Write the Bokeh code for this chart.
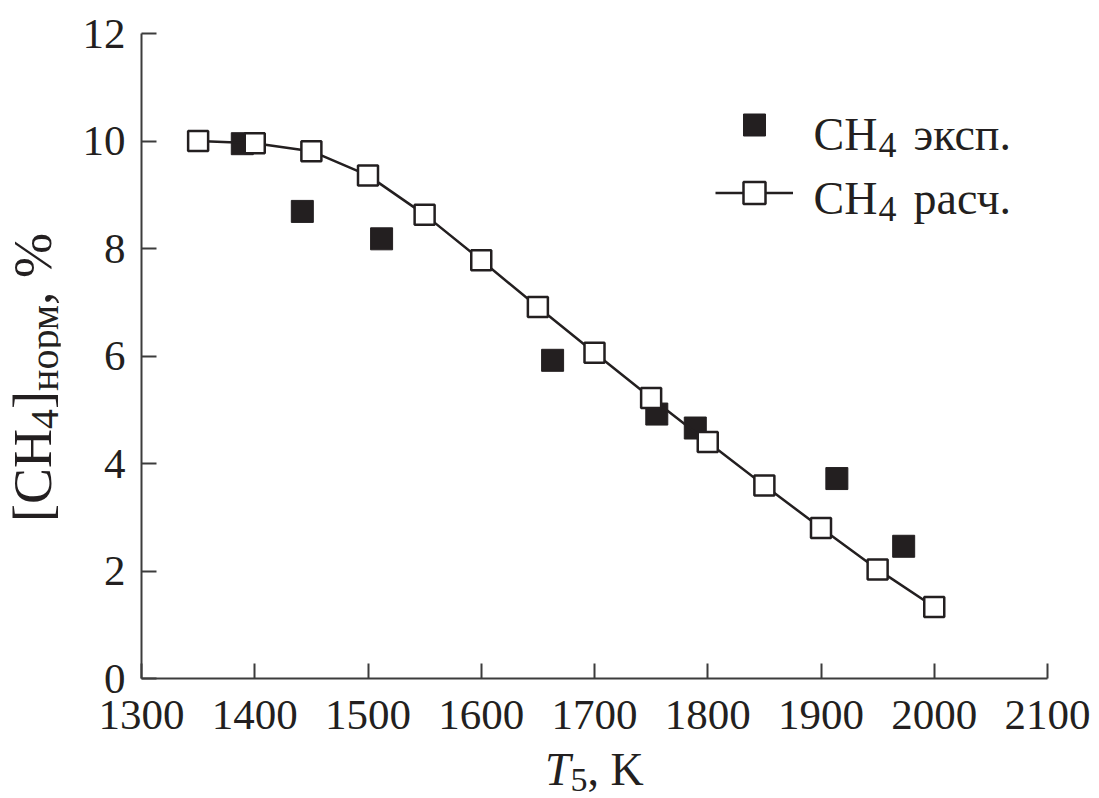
from bokeh.plotting import figure
from bokeh.models import Label, Range1d, FixedTicker, Legend, LegendItem, Div
from bokeh.layouts import row, column
from bokeh.core.properties import value
from bokeh.embed import file_html
from bokeh.resources import INLINE

# ---------------- data ----------------
T_calc = [1350, 1400, 1450, 1500, 1550, 1600, 1650, 1700, 1750, 1800, 1850, 1900, 1950, 2000]
ch4_calc = [10.0, 9.96, 9.81, 9.36, 8.63, 7.78, 6.91, 6.06, 5.22, 4.40, 3.59, 2.80, 2.03, 1.33]
T_exp = [1389, 1442, 1512, 1663, 1755, 1789, 1914, 1973]
ch4_exp = [9.95, 8.69, 8.18, 5.92, 4.92, 4.66, 3.72, 2.46]
x_ticks = [1300, 1400, 1500, 1600, 1700, 1800, 1900, 2000, 2100]
y_ticks = [0, 2, 4, 6, 8, 10, 12]

FONT = "Liberation Serif"
INK = "#231f20"
AXIS = "#3c3c3c"

# page geometry (canvas px)
W, H = 1099, 798
YDIV_W = 60            # strip on the left holding the y title
XDIV_H = 46            # strip at the bottom holding the x title
FL, FR, FT, FB = 141, 1047, 33, 678   # frame edges in page px

PW, PH = W - YDIV_W, H - XDIV_H
p = figure(width=PW, height=PH, output_backend="svg", toolbar_location=None,
           x_range=Range1d(1300, 2100), y_range=Range1d(0, 12),
           min_border_left=FL - YDIV_W, min_border_right=W - FR,
           min_border_top=FT, min_border_bottom=PH - FB)
p.outline_line_color = None
p.grid.visible = False
p.background_fill_color = "white"
p.border_fill_color = "white"

for ax, ticks in ((p.xaxis[0], x_ticks), (p.yaxis[0], y_ticks)):
    ax.ticker = FixedTicker(ticks=ticks)
    ax.axis_line_color = AXIS
    ax.axis_line_width = 2
    ax.major_tick_line_color = AXIS
    ax.major_tick_line_width = 2
    ax.major_tick_in = 15
    ax.major_tick_out = 0
    ax.minor_tick_line_color = None
    ax.major_label_text_font = FONT
    ax.major_label_text_font_size = "43px"
    ax.major_label_text_color = INK
p.xaxis[0].major_label_standoff = 22
p.yaxis[0].major_label_standoff = 16

# ---------------- marks ----------------
r_exp = p.scatter(T_exp, ch4_exp, marker="square", size=22,
                  fill_color=INK, line_color=INK, line_width=1)
r_line = p.line(T_calc, ch4_calc, line_color=INK, line_width=2.5)
r_calc = p.scatter(T_calc, ch4_calc, marker="square", size=20,
                   fill_color="white", line_color=INK, line_width=2.5)

# legend glyphs (text drawn separately because of the subscripts)
leg = Legend(items=[LegendItem(label=value(""), renderers=[r_exp]),
                    LegendItem(label=value(""), renderers=[r_line, r_calc])],
             location=(715 - FL, FB - 220), orientation="vertical",
             glyph_width=78, glyph_height=55, spacing=13, padding=0, margin=0,
             label_standoff=0, label_width=0, label_height=10,
             label_text_font_size="1px",
             border_line_color=None, background_fill_alpha=0)
p.add_layout(leg, "center")


def lab(text, cx, cy, size):
    """Label placed by page pixel position (inside the frame)."""
    p.add_layout(Label(x=cx - FL, y=FB - cy, x_units="screen", y_units="screen",
                       text=text, text_font=FONT, text_font_size=f"{size}px",
                       text_color=INK, text_align="left", text_baseline="alphabetic"))


# legend texts
LF, LS = 46, 36
for cy, tail in ((134, "эксп."), (198, "расч.")):
    x0 = 813
    xs = x0 + 1.389 * LF + 1
    lab("CH", x0, cy, LF)
    lab("4", xs, cy + 10, LS)
    lab(tail, 913, cy, LF)

# ---------------- axis titles as HTML (subscripts) ----------------
ytitle = Div(width=YDIV_W, height=H, margin=0, styles={"overflow": "visible"},
             text=(
                 f'<div style="position:relative;width:{YDIV_W}px;height:{H}px;">'
                 '<div style="position:absolute;left:6px;top:522px;transform-origin:0 0;'
                 'transform:rotate(-90deg);white-space:nowrap;'
                 f"font-family:'{FONT}';font-size:54px;line-height:54px;color:{INK};\">"
                 '[CH<span style="font-size:40px;position:relative;top:7px;">4</span>]'
                 '<span style="font-size:40px;position:relative;top:7px;">норм</span>, %'
                 '</div></div>'))

xtitle = Div(width=PW, height=XDIV_H, margin=0, styles={"overflow": "visible"},
             text=(
                 f'<div style="position:relative;width:{PW}px;height:{XDIV_H}px;">'
                 f'<div style="position:absolute;left:{545 - YDIV_W}px;top:-2px;white-space:nowrap;'
                 f"font-family:'{FONT}';font-size:46px;line-height:40px;color:{INK};\">"
                 '<i>T</i><span style="font-size:34px;position:relative;top:6px;">5</span>, K'
                 '</div></div>'))

layout = row(ytitle, column(p, xtitle, spacing=0), spacing=0)

open("out.html", "w").write(file_html(layout, INLINE))
